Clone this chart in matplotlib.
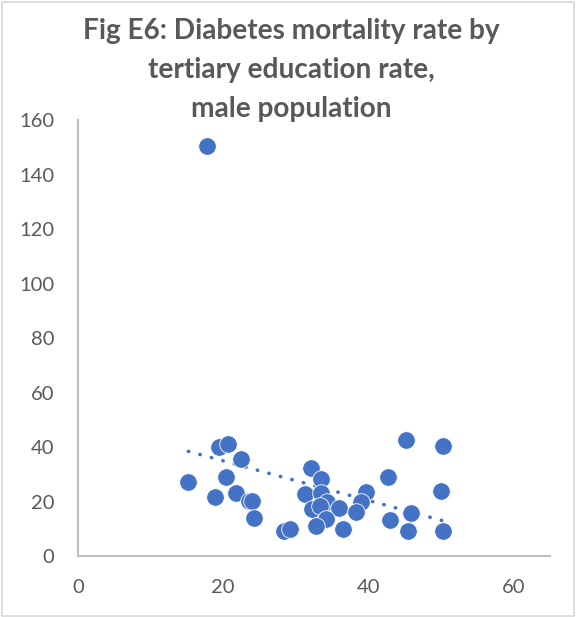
import matplotlib
matplotlib.use("Agg")
import matplotlib.pyplot as plt
from matplotlib.patches import Rectangle
import numpy as np

# tertiary education rate (%) vs diabetes mortality rate, male
edu_rate = [17.8, 15.2, 19.4, 20.6, 22.4, 20.4, 18.8, 21.8, 23.5, 24.0,
            24.2, 28.4, 29.2, 32.1, 33.5, 31.3, 33.4, 34.3, 32.2, 33.3,
            36.0, 34.1, 32.8, 36.5, 39.7, 39.0, 38.3, 42.7, 45.2, 50.2,
            50.0, 42.9, 45.9, 45.4, 50.2]
mortality = [150.5, 27.2, 40.2, 41.2, 35.7, 29.0, 21.9, 23.4, 20.5, 20.2,
             14.2, 9.5, 10.0, 32.6, 28.3, 22.8, 23.4, 20.1, 17.4, 18.5,
             17.9, 13.7, 11.3, 10.2, 23.5, 20.1, 16.2, 29.3, 42.7, 40.6,
             24.0, 13.4, 15.8, 9.3, 9.3]

x_ticks = [0, 20, 40, 60]
y_ticks = [0, 20, 40, 60, 80, 100, 120, 140, 160]

BLUE = "#4472C4"
GRAY_TXT = "#595959"
AXIS_GRAY = "#BFBFBF"

plt.rcParams['font.family'] = ['Lato', 'DejaVu Sans']

fig = plt.figure(figsize=(5.76, 6.17), dpi=100)
ax = fig.add_axes([0.1354, 0.0981, 0.8195, 0.7074])

ax.scatter(edu_rate, mortality, s=160, color=BLUE, edgecolors="white",
           linewidths=0.6, zorder=3)

# linear trendline
x = np.array(edu_rate)
y = np.array(mortality)
k, b = np.polyfit(x, y, 1)
xs = np.array([x.min(), x.max()])
ax.plot(xs, k * xs + b, color=BLUE, linestyle=(0, (0.1, 3.2)), linewidth=2.6,
        dash_capstyle="round", zorder=2)

ax.set_xlim(0, 65)
ax.set_ylim(0, 160)
ax.set_xticks(x_ticks)
ax.set_yticks(y_ticks)
ax.tick_params(axis="both", length=0, labelsize=14.5, colors=GRAY_TXT)
ax.tick_params(axis="x", pad=16)
ax.tick_params(axis="y", pad=17)

for side in ["top", "right"]:
    ax.spines[side].set_visible(False)
for side in ["left", "bottom"]:
    ax.spines[side].set_color(AXIS_GRAY)
    ax.spines[side].set_linewidth(1.5)

fig.text(0.505, 0.886, "Fig E6: Diabetes mortality rate by\ntertiary education rate,\nmale population",
         ha="center", va="center", fontsize=20.2, fontweight="bold",
         color=GRAY_TXT, linespacing=1.62)

fig.patches.append(Rectangle((0.003, 0.002), 0.994, 0.995, transform=fig.transFigure,
                             fill=False, edgecolor="#D9D9D9", linewidth=1.2))

fig.savefig("out.png", dpi=100)
